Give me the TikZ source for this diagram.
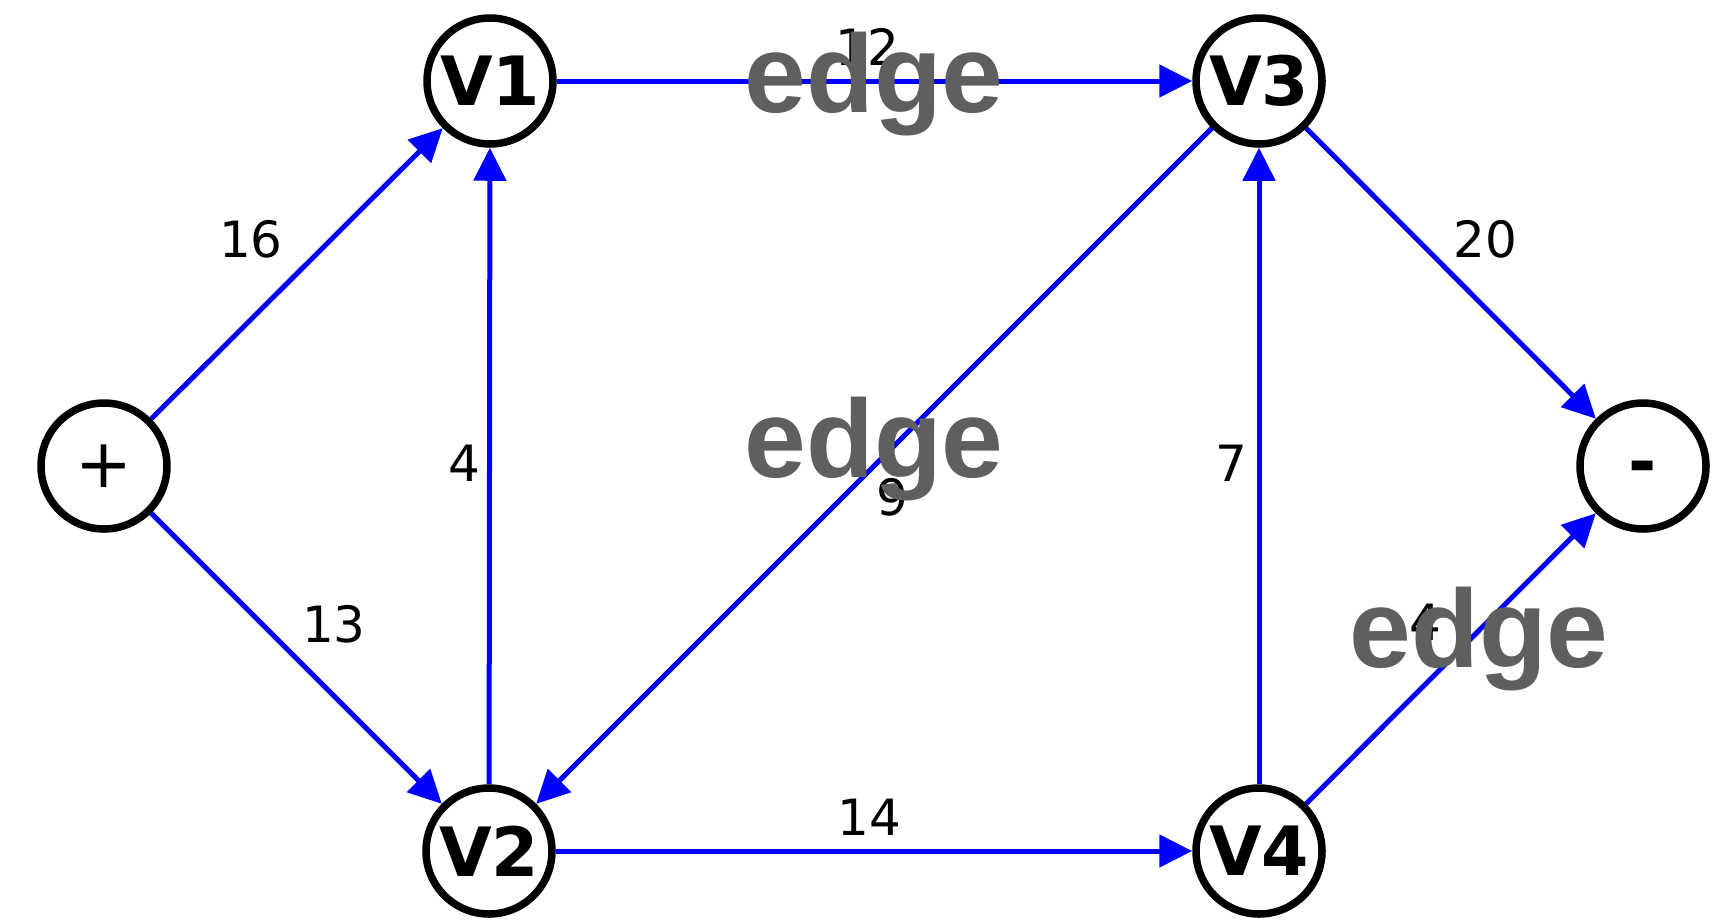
\documentclass[tikz,border=0pt]{standalone}
\usepackage{fontspec}
\setmainfont{DejaVu Sans}
\newfontfamily\edgefont{Liberation Sans}
\usetikzlibrary{arrows.meta}
\definecolor{edgegray}{HTML}{5F5F5F}
\pgfdeclarelayer{background}
\pgfsetlayers{background,main}
\begin{document}
\begin{tikzpicture}[x=1pt,y=-1pt,
  vertex/.style={circle,draw=black,line width=7.5pt,fill=white,minimum size=126pt,inner sep=0pt,
    font=\fontsize{68}{72}\selectfont\bfseries},
  flow/.style={draw=blue,line width=5pt,-{Triangle[length=33pt,width=32pt]}},
  capacity/.style={font=\fontsize{50}{55}\selectfont,inner sep=0pt,text=black},
  edgetxt/.style={font=\edgefont\bfseries\fontsize{111}{120}\selectfont,text=edgegray,inner sep=0pt,anchor=base}]
\useasboundingbox (0,0) rectangle (1712,922);

\node[vertex] (s)  at (104,466)  {\mdseries +};
\node[vertex] (v1) at (490,81)   {V1};
\node[vertex] (v2) at (489,851)  {V2};
\node[vertex] (v3) at (1259,81)  {V3};
\node[vertex] (v4) at (1259,851) {V4};
\node[vertex] (t)  at (1643,466) {\raisebox{-0.285em}[0pt][0pt]{-}};

\begin{pgfonlayer}{background}
\draw[flow] (s) -- (v1);
\draw[flow] (s) -- (v2);
\draw[flow] (v2) -- (v1);
\draw[flow] (v1) -- (v3);
\draw[flow] (v3) -- (v2);
\draw[flow] (v2) -- (v4);
\draw[flow] (v4) -- (v3);
\draw[flow] (v3) -- (t);
\draw[flow] (v4) -- (t);
\end{pgfonlayer}

\node[capacity] (c16) at (251,239)  {16};
\node[capacity] (c13) at (334,624)  {13};
\node[capacity] (c4a) at (464,463)  {4};
\node[capacity] (c12) at (867,47)   {12};
\node[capacity] (c9)  at (892,497)  {9};
\node[capacity] (c14) at (869,817)  {14};
\node[capacity] (c7)  at (1231,463) {7};
\node[capacity] (c20) at (1485,239) {20};
\node[capacity] (c4b) at (1425,622) {4};

\node[edgetxt] (e1) at (874,112) {edge};
\node[edgetxt] (e2) at (874,477) {edge};
\node[edgetxt] (e3) at (1479,667) {edge};
\end{tikzpicture}
\end{document}
